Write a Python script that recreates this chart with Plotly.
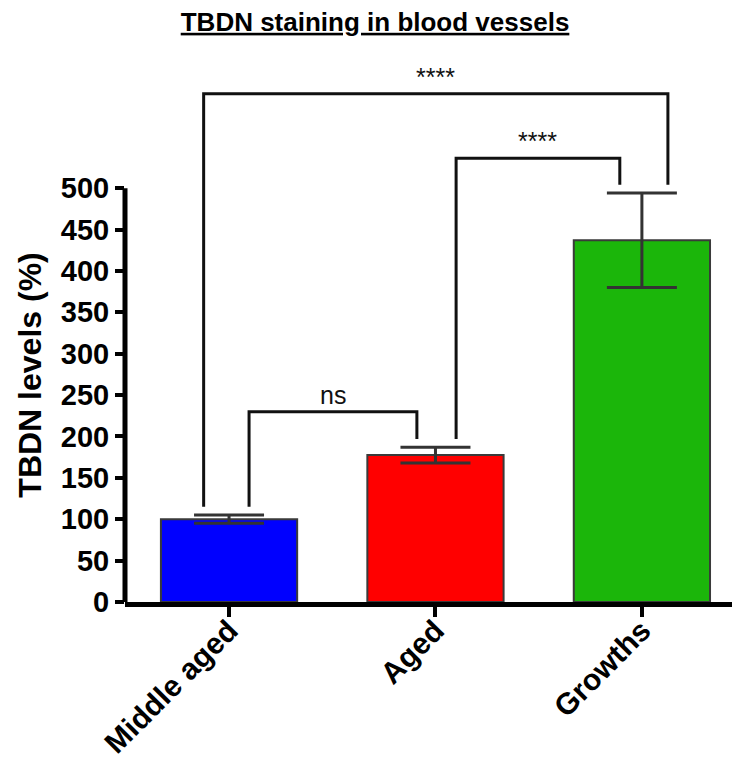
import plotly.graph_objects as go

categories = ["Middle aged", "Aged", "Growths"]
means = [100, 177.5, 437]
sem = [5, 9.5, 57]
bar_colors = ["#0000ff", "#ff0000", "#1bb60a"]
y_ticks = [0, 50, 100, 150, 200, 250, 300, 350, 400, 450, 500]

# significance brackets: (group a, group b, label, bracket height, x offset at a, x offset at b)
bracket_a = [0, 1, 0]
bracket_b = [1, 2, 2]
bracket_labels = ["ns", "****", "****"]
bracket_y = [230, 536, 614]
bracket_off_a = [0.097, 0.10, -0.123]
bracket_off_b = [-0.09, -0.107, 0.126]
bracket_gap = 10

FONT = "Liberation Sans, Arial, sans-serif"
xpos = list(range(len(categories)))

fig = go.Figure()
fig.add_trace(go.Bar(
    x=xpos, y=means, width=0.66,
    marker=dict(color=bar_colors, line=dict(color="#3a3a3a", width=2)),
    error_y=dict(type="data", array=sem, visible=True, color="#333333",
                 thickness=3, width=35),
    showlegend=False, hoverinfo="skip",
))

for a, b, lab, h, oa, ob in zip(bracket_a, bracket_b, bracket_labels, bracket_y,
                                bracket_off_a, bracket_off_b):
    ya = means[a] + sem[a] + bracket_gap
    yb = means[b] + sem[b] + bracket_gap
    xa = xpos[a] + oa
    xb = xpos[b] + ob
    fig.add_trace(go.Scatter(
        x=[xa, xa, xb, xb], y=[ya, h, h, yb], mode="lines",
        line=dict(color="#111111", width=3), showlegend=False, hoverinfo="skip",
    ))
    fig.add_annotation(
        x=(xa + xb) / 2, y=h, text=lab, showarrow=False, yanchor="bottom",
        yshift=1, font=dict(family=FONT, size=25, color="#111111"),
    )

# y axis line only over the tick span
fig.add_shape(type="line", xref="paper", yref="y", x0=0, x1=0,
              y0=y_ticks[0], y1=y_ticks[-1], line=dict(color="black", width=5))

# y axis title (placed as rotated text, centred like the original)
fig.add_annotation(
    xref="paper", yref="paper", x=-0.153, y=0.422, xanchor="center", yanchor="middle",
    text="TBDN levels (%)", textangle=-90, showarrow=False,
    font=dict(family=FONT, size=32, color="black", weight="bold"),
)

fig.update_layout(
    width=740, height=761,
    margin=dict(l=117, r=0, t=56, b=167),
    plot_bgcolor="white", paper_bgcolor="white",
    title=dict(text="<u>TBDN staining in blood vessels</u>", x=0.496, xanchor="center",
               y=0.994, yanchor="top",
               font=dict(family=FONT, size=26, color="black", weight="bold")),
    xaxis=dict(range=[-0.504, 2.514], tickvals=xpos, ticktext=categories,
               tickangle=-45, showgrid=False, zeroline=False, automargin=False,
               showline=True, linecolor="black", linewidth=5,
               ticks="outside", ticklen=10, tickwidth=4, tickcolor="black",
               ticklabelstandoff=-16,
               tickfont=dict(family=FONT, size=30, color="black", weight="bold")),
    yaxis=dict(range=[0, 650], tickvals=y_ticks, showgrid=False, zeroline=False,
               showline=False, ticks="outside", ticklen=9, tickwidth=4,
               tickcolor="black", automargin=False,
               tickfont=dict(family=FONT, size=29, color="black", weight="bold")),
)

fig.write_html("out.html")
